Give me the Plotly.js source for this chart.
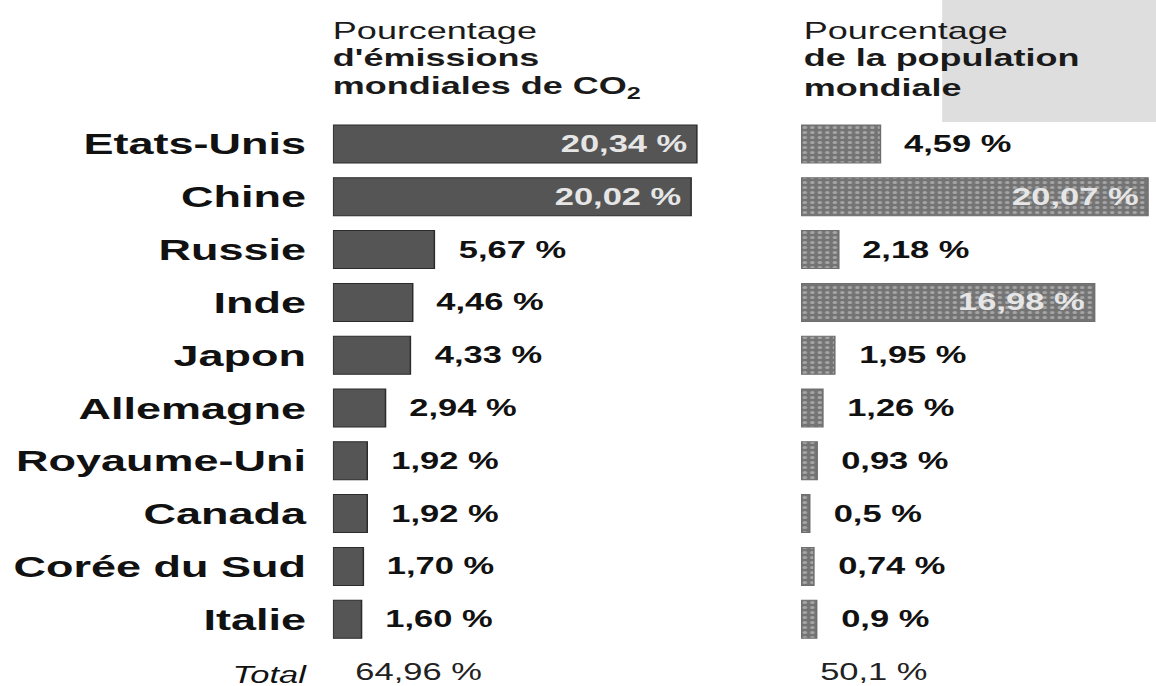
<!DOCTYPE html>
<html>
<head>
<meta charset="utf-8">
<script src="https://cdn.plot.ly/plotly-3.0.1.min.js"></script>
<style>
html,body{margin:0;padding:0;overflow:hidden;background:#fff;width:1156px;height:686px}
#wrap{width:1156px;height:686px;overflow:hidden;position:relative}
#chart{width:771px;height:686px;transform:scaleX(1.49935);transform-origin:0 0}
</style>
</head>
<body>
<div id="wrap"><div id="chart"></div></div>
<script>
// ---- data ----
const countries = ['Etats-Unis','Chine','Russie','Inde','Japon','Allemagne','Royaume-Uni','Canada','Corée du Sud','Italie'];
const co2Values = [20.34, 20.02, 5.67, 4.46, 4.33, 2.94, 1.92, 1.92, 1.70, 1.60];
const co2Labels = ['20,34 %','20,02 %','5,67 %','4,46 %','4,33 %','2,94 %','1,92 %','1,92 %','1,70 %','1,60 %'];
const popValues = [4.59, 20.07, 2.18, 16.98, 1.95, 1.26, 0.93, 0.5, 0.74, 0.9];
const popLabels = ['4,59 %','20,07 %','2,18 %','16,98 %','1,95 %','1,26 %','0,93 %','0,5 %','0,74 %','0,9 %'];
const totalCategory = 'Total';
const co2Total = '64,96 %';
const popTotal = '50,1 %';
const co2TitleLines = ['Pourcentage', "<b>d'émissions</b>", '<b>mondiales de CO<sub>2</sub></b>'];
const popTitleLines = ['Pourcentage', '<b>de la population</b>', '<b>mondiale</b>'];

// ---- chart ----
const FONT = 'Liberation Sans, Arial, Helvetica, sans-serif';
const H = 686;
const allCats = countries.concat([totalCategory]);
const tickText = countries.map(c => '<b>' + c + '</b>')
  .concat(['<i><span style="font-size:23px">' + totalCategory + '</span></i>']);

const traces = [
  {
    type: 'bar', orientation: 'h', x: co2Values, y: countries,
    xaxis: 'x', yaxis: 'y', hoverinfo: 'skip',
    marker: {color: '#555555', line: {color: '#2b2b2b', width: 1}}
  },
  {
    type: 'bar', orientation: 'h', x: popValues, y: countries,
    xaxis: 'x2', yaxis: 'y', hoverinfo: 'skip',
    marker: {color: '#7c7c7c', line: {color: '#6e6e6e', width: 1},
      pattern: {shape: '.', fgcolor: '#a6a6a6', bgcolor: '#747474', size: 5, solidity: 0.3, fillmode: 'replace'}}
  }
];

const annotations = [];
function valueAnn(vals, labels, xref) {
  vals.forEach((v, i) => {
    const inside = v > 10;
    annotations.push({
      x: v, y: countries[i], xref: xref, yref: 'y', text: labels[i], showarrow: false,
      xanchor: inside ? 'right' : 'left', yanchor: 'middle', xshift: inside ? -5 : 14,
      font: {family: FONT, size: 23, weight: 'bold', color: inside ? '#e6e6e6' : '#111'}
    });
  });
}
valueAnn(co2Values, co2Labels, 'x');
valueAnn(popValues, popLabels, 'x2');
annotations.push({x: 0, y: totalCategory, xref: 'x', yref: 'y', text: co2Total, showarrow: false,
  xanchor: 'left', yanchor: 'middle', xshift: 13, font: {family: FONT, size: 23, color: '#222'}});
annotations.push({x: 0, y: totalCategory, xref: 'x2', yref: 'y', text: popTotal, showarrow: false,
  xanchor: 'left', yanchor: 'middle', xshift: 11, font: {family: FONT, size: 23, color: '#222'}});

const lineCenters = [31, 58, 87];
function titleAnn(lines, xp) {
  lines.forEach((t, i) => {
    annotations.push({x: xp, y: 1 - lineCenters[i] / H, xref: 'paper', yref: 'paper', text: t,
      showarrow: false, xanchor: 'left', yanchor: 'middle',
      font: {family: FONT, size: 24, color: '#1a1a1a'}});
  });
}
titleAnn(co2TitleLines, 0.285);
titleAnn(popTitleLines, 0.693);

const layout = {
  width: 771, height: H,
  margin: {l: 0, r: 0, t: 0, b: 0},
  paper_bgcolor: '#fff', plot_bgcolor: 'rgba(0,0,0,0)',
  showlegend: false, bargap: 0.28,
  font: {family: FONT, color: '#111'},
  xaxis: {domain: [0.288, 0.62], range: [0, 21.45], visible: false, fixedrange: true, anchor: 'y'},
  xaxis2: {domain: [0.693, 1], range: [0, 20.53], visible: false, fixedrange: true, anchor: 'y'},
  yaxis: {
    type: 'category', categoryorder: 'array', categoryarray: allCats,
    range: [10.265, -2.727], anchor: 'x',
    tickmode: 'array', tickvals: allCats, ticktext: tickText,
    tickfont: {family: FONT, size: 30, color: '#111'},
    ticks: 'outside', ticklen: 11, tickcolor: 'rgba(0,0,0,0)',
    showline: false, showgrid: false, zeroline: false, automargin: false, fixedrange: true
  },
  shapes: [
    {type: 'rect', xref: 'paper', yref: 'paper', x0: 0.815, x1: 1, y0: 1 - 122 / H, y1: 1,
      fillcolor: '#bdbdbd', opacity: 0.5, line: {width: 0}, layer: 'below'}
  ],
  annotations: annotations
};

Plotly.newPlot('chart', traces, layout, {displayModeBar: false, staticPlot: true});
</script>
</body>
</html>
